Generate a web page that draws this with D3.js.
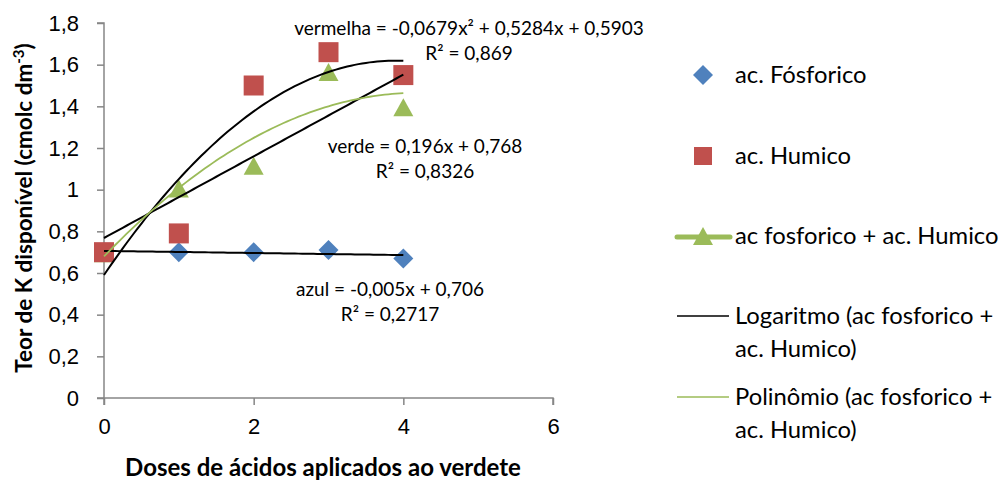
<!DOCTYPE html>
<html>
<head>
<script src="https://d3js.org/d3.v7.min.js" charset="utf-8"></script>
<style type="text/css">
	body {
		margin: 0;
		background-color: white;
		font-family: Lato, "Open Sans", sans-serif;
	}
	.tick text { font-size: 22px; fill: #000; }
</style>
</head>
<body>
<script>
// data
var doses = [0, 1, 2, 3, 4];
var azul = [0.70, 0.70, 0.70, 0.71, 0.67];       // ac. Fósforico
var vermelha = [0.70, 0.79, 1.50, 1.66, 1.55];   // ac. Humico
var verde = [0.70, 1.01, 1.12, 1.57, 1.40];      // ac fosforico + ac. Humico
var xTicks = [0, 2, 4, 6];
var yTicks = [0, 0.2, 0.4, 0.6, 0.8, 1, 1.2, 1.4, 1.6, 1.8];

var eqVermelha = ["vermelha = -0,0679x² + 0,5284x + 0,5903", "R² = 0,869"];
var eqVerde = ["verde = 0,196x + 0,768", "R² = 0,8326"];
var eqAzul = ["azul = -0,005x + 0,706", "R² = 0,2717"];

var w = 1005, h = 484;
var svg = d3.select("body").append("svg").attr("width", w).attr("height", h);

var x = d3.scaleLinear().domain([0, 6]).range([104, 553]);
var y = d3.scaleLinear().domain([0, 1.8]).range([398, 23]);

// least squares fit, degree 1 or 2
function fit(xs, ys, deg) {
	var mx = d3.mean(xs);
	var t = xs.map(function(v) { return v - mx; });
	var my = d3.mean(ys);
	var b = d3.sum(t, function(v, i) { return v * ys[i]; }) / d3.sum(t, function(v) { return v * v; });
	if (deg == 1) return function(v) { return my + b * (v - mx); };
	var mt2 = d3.mean(t, function(v) { return v * v; });
	var q = t.map(function(v) { return v * v - mt2; });
	var c = d3.sum(q, function(v, i) { return v * ys[i]; }) / d3.sum(q, function(v) { return v * v; });
	return function(v) { var tt = v - mx; return my + b * tt + c * (tt * tt - mt2); };
}

var gray = "#868686";
var cBlue = "#4F81BD", cRed = "#C0504D", cGreen = "#9BBB59";

// axes
var yAxis = svg.append("g").attr("transform", "translate(104,0)")
	.call(d3.axisLeft(y).tickValues(yTicks).tickSize(7).tickPadding(18)
		.tickFormat(function(d) { return d3.format(".1~f")(d).replace(".", ","); }));
var xAxis = svg.append("g").attr("transform", "translate(0,398)")
	.call(d3.axisBottom(x).tickValues(xTicks).tickSize(7).tickPadding(13).tickFormat(d3.format("d")));
svg.selectAll(".domain").attr("stroke", gray).attr("stroke-width", 1.5);
svg.selectAll(".tick line").attr("stroke", gray).attr("stroke-width", 1.5);
yAxis.select(".domain").attr("d", "M-7,23H0V398H-7");
xAxis.select(".domain").attr("d", "M104,7V0H553V7");

// markers
var sym = svg.append("g");
sym.selectAll(".tri").data(doses).enter().append("path")
	.attr("transform", function(d, i) { return "translate(" + x(d) + "," + (y(verde[i]) + 1) + ")"; })
	.attr("d", "M0,-9L10,9L-10,9Z").attr("fill", cGreen);
sym.selectAll(".dia").data(doses).enter().append("path")
	.attr("transform", function(d, i) { return "translate(" + x(d) + "," + y(azul[i]) + ")"; })
	.attr("d", "M0,-10L10,0L0,10L-10,0Z").attr("fill", cBlue);
sym.selectAll(".sq").data(doses).enter().append("rect")
	.attr("x", function(d) { return x(d) - 10; })
	.attr("y", function(d, i) { return y(vermelha[i]) - 10; })
	.attr("width", 20).attr("height", 20).attr("fill", cRed);

// trendlines
var xs = d3.range(0, 4.0001, 0.05);
function trend(f, color, width) {
	svg.append("path")
		.attr("d", d3.line().x(function(d) { return x(d); }).y(function(d) { return y(f(d)); })(xs))
		.attr("fill", "none").attr("stroke", color).attr("stroke-width", width);
}
trend(fit(doses, azul, 1), "#000", 2);
trend(fit(doses, vermelha, 2), "#000", 2);
trend(fit(doses, verde, 1), "#000", 2);
trend(fit(doses, verde, 2), cGreen, 1.8);

// equations
function label(lines, cx, by) {
	var t = svg.append("text").attr("text-anchor", "middle").attr("font-size", 19);
	lines.forEach(function(s, i) {
		t.append("tspan").attr("x", cx).attr("y", by + i * 25).text(s);
	});
}
label(eqVermelha, 469, 35);
label(eqVerde, 425, 153);
label(eqAzul, 390, 296);

// axis titles
svg.append("text").attr("x", 323).attr("y", 476).attr("text-anchor", "middle")
	.attr("font-size", 24).attr("font-weight", "bold").text("Doses de ácidos aplicados ao verdete");
var yt = svg.append("text").attr("transform", "translate(32,208) rotate(-90)")
	.attr("text-anchor", "middle").attr("font-size", 22.5).attr("font-weight", "bold");
yt.append("tspan").text("Teor de K disponível (cmolc dm");
yt.append("tspan").attr("dy", -8).attr("font-size", 15).text("-3");
yt.append("tspan").attr("dy", 8).text(")");

// legend
var lg = svg.append("g").attr("font-size", 23.8);
lg.append("path").attr("d", "M0,-10L10,0L0,10L-10,0Z").attr("fill", cBlue).attr("transform", "translate(703,75)");
lg.append("text").attr("x", 735).attr("y", 83).text("ac. Fósforico");
lg.append("rect").attr("x", 694).attr("y", 147).attr("width", 18).attr("height", 18).attr("fill", cRed);
lg.append("text").attr("x", 735).attr("y", 164).text("ac. Humico");
lg.append("line").attr("x1", 677).attr("x2", 730).attr("y1", 237).attr("y2", 237)
	.attr("stroke", cGreen).attr("stroke-width", 5).attr("stroke-linecap", "round");
lg.append("path").attr("d", "M0,-9L10,9L-10,9Z").attr("fill", cGreen).attr("transform", "translate(703,236)");
lg.append("text").attr("x", 735).attr("y", 244).text("ac fosforico + ac. Humico");
lg.append("line").attr("x1", 677).attr("x2", 729).attr("y1", 316).attr("y2", 316)
	.attr("stroke", "#000").attr("stroke-width", 1.5);
lg.append("text").attr("x", 735).attr("y", 324).text("Logaritmo (ac fosforico +");
lg.append("text").attr("x", 735).attr("y", 357).text("ac. Humico)");
lg.append("line").attr("x1", 677).attr("x2", 729).attr("y1", 397).attr("y2", 397)
	.attr("stroke", cGreen).attr("stroke-width", 1.5);
lg.append("text").attr("x", 735).attr("y", 405).text("Polinômio (ac fosforico +");
lg.append("text").attr("x", 735).attr("y", 438).text("ac. Humico)");
</script>
</body>
</html>
